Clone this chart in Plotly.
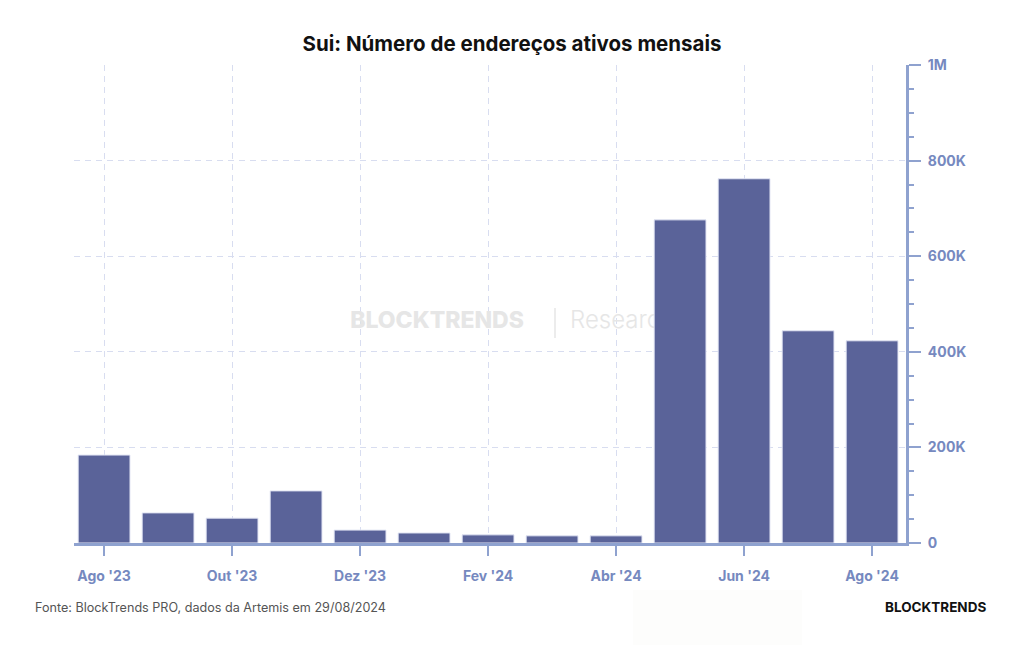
import plotly.graph_objects as go

months = ["Ago '23", "Set '23", "Out '23", "Nov '23", "Dez '23", "Jan '24", "Fev '24",
          "Mar '24", "Abr '24", "Mai '24", "Jun '24", "Jul '24", "Ago '24"]
active_addresses = [184000, 63000, 52000, 109000, 27000, 21000, 17000,
                    15000, 15000, 676000, 762000, 444000, 423000]
x_tick_labels = ["Ago '23", "Out '23", "Dez '23", "Fev '24", "Abr '24", "Jun '24", "Ago '24"]
y_tick_values = [0, 200000, 400000, 600000, 800000, 1000000]
y_tick_labels = ["0", "200K", "400K", "600K", "800K", "1M"]

BAR = "#5A6399"
AXIS = "#8FA2CF"
TICKTXT = "#7689BF"
GRID = "#D8DDF0"

L, R, T, B = 74, 118, 65, 102
W, H = 1024, 645
pw, ph = W - L - R, H - T - B

def px(x):
    return (x - L) / pw

def py(y):
    return (H - B - y) / ph

fig = go.Figure()

# watermark (base subplot, beneath bars)
fig.add_trace(go.Scatter(x=[px(437)], y=[py(322)], mode="text", text=["BLOCKTRENDS"],
                         textfont=dict(family="Inter", size=23, color="#E6E6E6", weight=800),
                         hoverinfo="skip", showlegend=False, xaxis="x", yaxis="y"))
fig.add_trace(go.Scatter(x=[px(555), px(555)], y=[py(338), py(308)], mode="lines",
                         line=dict(color="#E6E6E6", width=1.5),
                         hoverinfo="skip", showlegend=False, xaxis="x", yaxis="y"))
fig.add_trace(go.Scatter(x=[px(570)], y=[py(322)], mode="text", text=["Research"],
                         textposition="middle right",
                         textfont=dict(family="Inter", size=24, color="#E6E6E6", weight=300),
                         hoverinfo="skip", showlegend=False, xaxis="x", yaxis="y"))

fig.add_trace(go.Bar(x=months, y=active_addresses, marker=dict(color=BAR, line=dict(color="#E3E6F4", width=1)),
                     xaxis="x2", yaxis="y2", showlegend=False))

fig.update_layout(
    width=W, height=H,
    margin=dict(l=L, r=R, t=T, b=B),
    paper_bgcolor="white", plot_bgcolor="white",
    bargap=0.19,
    title=dict(text="<b>Sui: Número de endereços ativos mensais</b>", x=0.5, xref="container",
               xanchor="center", y=1 - 44 / H, yref="container", yanchor="middle",
               font=dict(family="Inter", size=20.5, color="#111111")),
    xaxis=dict(range=[0, 1], visible=False, fixedrange=True),
    yaxis=dict(range=[0, 1], visible=False, fixedrange=True),
    xaxis2=dict(overlaying="x", anchor="y2", type="category", range=[-0.47, 12.53],
                tickmode="array", tickvals=x_tick_labels, ticktext=x_tick_labels,
                showline=True, linecolor=AXIS, linewidth=3,
                ticks="outside", ticklen=10, tickwidth=2, tickcolor=AXIS,
                ticklabelstandoff=8,
                tickfont=dict(family="Inter", size=14, color=TICKTXT, weight=700),
                showgrid=True, gridcolor=GRID, gridwidth=1, griddash="6px,5px", zeroline=False),
    yaxis2=dict(overlaying="y", anchor="x2", side="right", range=[0, 1000000],
                tickmode="array", tickvals=y_tick_values, ticktext=y_tick_labels,
                showline=True, linecolor=AXIS, linewidth=3,
                ticks="outside", ticklen=12, tickwidth=2, tickcolor=AXIS,
                ticklabelstandoff=4,
                minor=dict(tickmode="linear", tick0=0, dtick=50000, ticks="outside", ticklen=5,
                           tickwidth=1.5, tickcolor=AXIS, showgrid=False),
                tickfont=dict(family="Inter", size=14, color=TICKTXT, weight=700),
                showgrid=True, gridcolor=GRID, gridwidth=1, griddash="6px,5px", zeroline=False),
    shapes=[dict(type="rect", xref="paper", yref="paper", x0=px(633), x1=px(802), y0=py(645), y1=py(590),
                 fillcolor="#FDFDFC", line=dict(width=0), layer="below")],
    annotations=[
        dict(text="Fonte: BlockTrends PRO, dados da Artemis em 29/08/2024", xref="paper", yref="paper",
             x=px(33), y=py(607), xanchor="left", yanchor="middle", showarrow=False,
             font=dict(family="Inter", size=12.6, color="#555555")),
        dict(text="<b>BLOCKTRENDS</b>", xref="paper", yref="paper",
             x=px(988), y=py(607), xanchor="right", yanchor="middle", showarrow=False,
             font=dict(family="Inter", size=13.5, color="#111111", weight=800)),
    ],
)

fig.write_html("out.html")
